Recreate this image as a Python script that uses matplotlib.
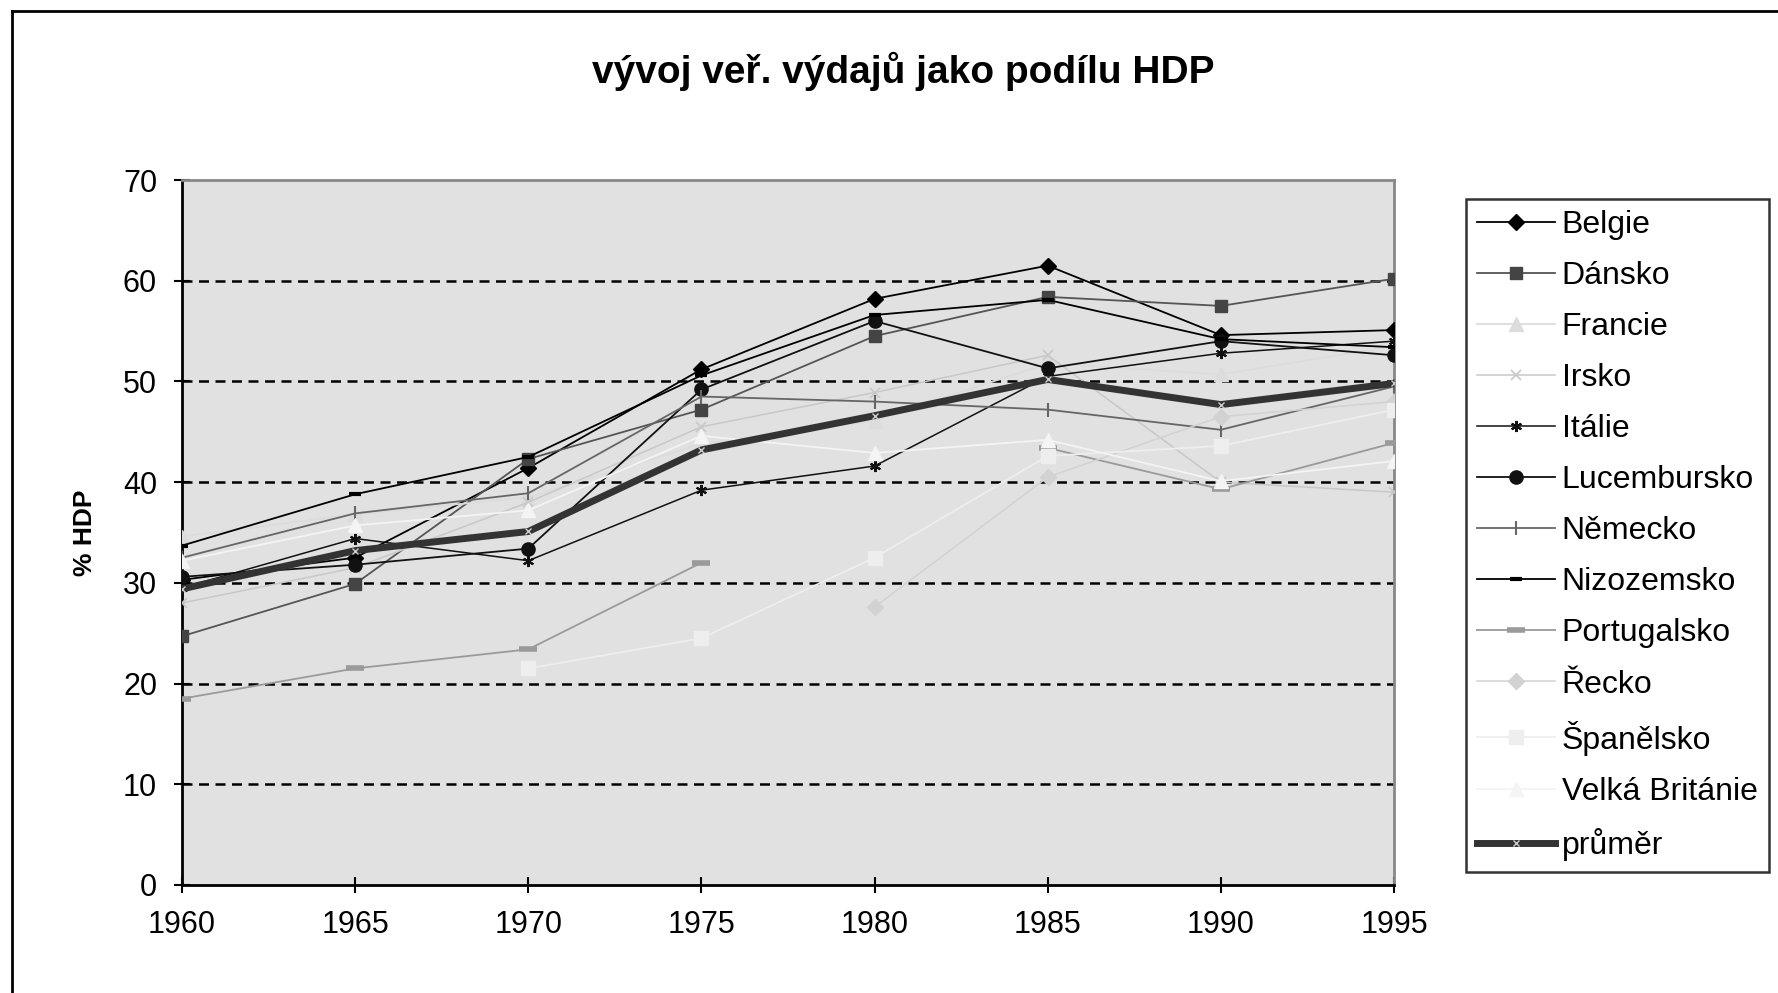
import numpy as np
import matplotlib
matplotlib.use("Agg")
import matplotlib.pyplot as plt
from matplotlib.lines import Line2D

plt.rcParams['font.family'] = ['Liberation Sans', 'DejaVu Sans']

years = [1960, 1965, 1970, 1975, 1980, 1985, 1990, 1995]
nan = np.nan

belgie       = [30.3, 32.5, 41.4, 51.2, 58.2, 61.5, 54.6, 55.1]
dansko       = [24.7, 29.9, 42.3, 47.2, 54.5, 58.4, 57.5, 60.2]
francie      = [34.6, 36.8, 38.5, 43.8, 46.1, 51.8, 50.7, 53.5]
irsko        = [28.0, 31.5, 38.0, 45.5, 48.9, 52.6, 40.0, 39.0]
italie       = [29.5, 34.4, 32.2, 39.2, 41.6, 50.5, 52.8, 54.0]
lucembursko  = [30.6, 31.8, 33.4, 49.2, 56.0, 51.3, 54.0, 52.6]
nemecko      = [32.5, 36.9, 38.9, 48.5, 48.0, 47.2, 45.2, 49.5]
nizozemsko   = [33.7, 38.8, 42.5, 50.6, 56.6, 58.1, 54.2, 53.4]
portugalsko  = [18.5, 21.5, 23.4, 32.0, nan, 43.4, 39.3, 43.9]
recko        = [nan, nan, nan, nan, 27.6, 40.5, 46.5, 48.0]
spanelsko    = [nan, nan, 21.5, 24.5, 32.5, 42.6, 43.6, 47.2]
velka_brit   = [32.2, 35.7, 37.2, 44.6, 42.9, 44.2, 40.1, 42.1]
prumer       = [29.4, 33.2, 35.1, 43.2, 46.6, 50.2, 47.7, 49.8]

names = ["Belgie", "Dánsko", "Francie", "Irsko", "Itálie", "Lucembursko",
         "Německo", "Nizozemsko", "Portugalsko", "Řecko", "Španělsko",
         "Velká Británie", "průměr"]
series = [belgie, dansko, francie, irsko, italie, lucembursko, nemecko,
          nizozemsko, portugalsko, recko, spanelsko, velka_brit, prumer]

styles = [
    dict(color='#000000', marker='D', ms=8, lw=1.3),
    dict(color='#555555', marker='s', ms=9, lw=1.3, mfc='#444444', mec='#444444'),
    dict(color='#dcdcdc', marker='^', ms=10, lw=1.3),
    dict(color='#c8c8c8', marker='x', ms=7, lw=1.1, mew=1.2),
    dict(color='#111111', marker=(6, 2, 0), ms=8, lw=1.1, mew=1.5),
    dict(color='#111111', marker='o', ms=9.5, lw=1.3),
    dict(color='#666666', marker='|', ms=10, lw=1.3, mew=1.5),
    dict(color='#000000', marker='_', ms=8, lw=1.3, mew=3),
    dict(color='#9a9a9a', marker='_', ms=13, lw=1.3, mew=4),
    dict(color='#d2d2d2', marker='D', ms=8, lw=1.1),
    dict(color='#eeeeee', marker='s', ms=9.5, lw=1.3),
    dict(color='#f4f4f4', marker='^', ms=10, lw=1.3),
    dict(color='#333333', marker='x', ms=5, lw=5, mew=1, mec='#cccccc'),
]

fig = plt.figure(figsize=(17.78, 9.93), dpi=100)
fig.patch.set_facecolor('white')
ax = fig.add_axes([0.1024, 0.1088, 0.784 - 0.1024, 0.8187 - 0.1088])
ax.set_facecolor('#e1e1e1')

handles = []
for name, vals, st in zip(names, series, styles):
    st = dict(st)
    mfc = st.pop('mfc', st['color'])
    mec = st.pop('mec', st['color'])
    mew = st.pop('mew', 1.0)
    h, = ax.plot(years, vals, label=name, color=st['color'], marker=st['marker'],
                 markersize=st['ms'], linewidth=st['lw'], markerfacecolor=mfc,
                 markeredgecolor=mec, markeredgewidth=mew, zorder=3)
    handles.append(h)

ax.set_xlim(1960, 1995)
ax.set_ylim(0, 70)
ax.set_xticks(years)
ax.set_yticks(range(0, 71, 10))
for v in range(10, 70, 10):
    ax.axhline(v, color='black', lw=1.8, ls=(0, (4, 2.6)), zorder=1)

for s in ['left', 'bottom']:
    ax.spines[s].set_color('black')
    ax.spines[s].set_linewidth(2)
for s in ['top', 'right']:
    ax.spines[s].set_color('#888888')
    ax.spines[s].set_linewidth(2)

ax.tick_params(axis='both', direction='inout', length=12, width=1.5,
               labelsize=22, colors='black', pad=12)

fig.text(0.0478, 0.463, '% HDP', rotation=90, ha='center', va='center',
         fontsize=19, fontweight='bold')

fig.text(0.508, 0.928, 'vývoj veř. výdajů jako podílu HDP', ha='center',
         va='center', fontsize=28, fontweight='bold')

leg = fig.legend(handles=handles, labels=names, loc='upper left',
                 bbox_to_anchor=(0.8245, 0.80), fontsize=23, frameon=True,
                 fancybox=False, edgecolor='black', labelspacing=0.66,
                 handlelength=2.45, handletextpad=0.2, borderpad=0.35,
                 borderaxespad=0, numpoints=1)
leg.get_frame().set_linewidth(1.8)

fig.add_artist(Line2D([0.0067, 0.0067], [0.0, 0.989], color='black', lw=2,
                      transform=fig.transFigure))
fig.add_artist(Line2D([0.0067, 1.0], [0.989, 0.989], color='black', lw=2,
                      transform=fig.transFigure))

fig.savefig('out.png', dpi=100)
